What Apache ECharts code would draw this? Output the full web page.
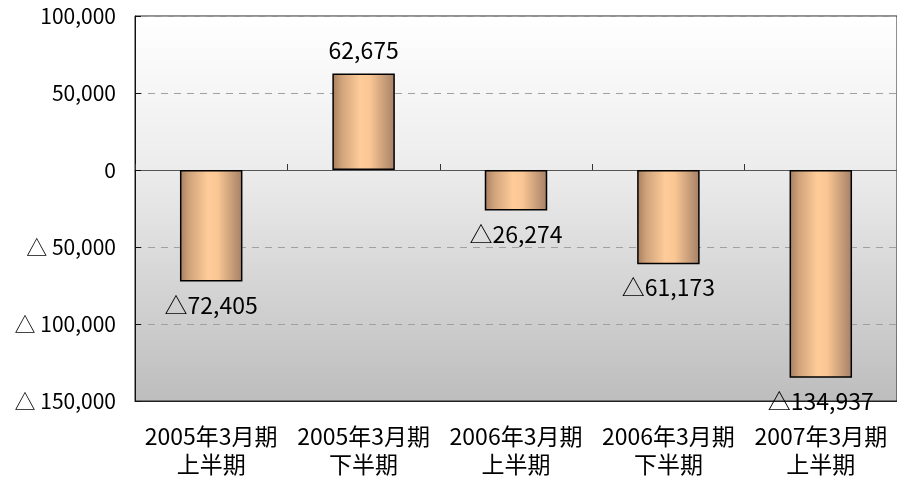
<!DOCTYPE html>
<html>
<head>
<meta charset="utf-8">
<script src="https://cdn.jsdelivr.net/npm/echarts@6/dist/echarts.min.js"></script>
<style>
html,body{margin:0;padding:0;background:#fff;}
#c{width:897px;height:480px;}
</style>
</head>
<body>
<div id="c"></div>
<script>
const categories = ['2005年3月期\n上半期', '2005年3月期\n下半期', '2006年3月期\n上半期', '2006年3月期\n下半期', '2007年3月期\n上半期'];
const values = [-72405, 62675, -26274, -61173, -134937];
const yTicks = { min: -150000, max: 100000, interval: 50000 };

const FONT = '"Noto Sans CJK JP", "Noto Sans", sans-serif';
const fmt = v => Math.abs(v).toLocaleString('en-US');

const chart = echarts.init(document.getElementById('c'));
chart.setOption({
  animation: false,
  grid: {
    left: 135, top: 16, right: -3, bottom: 79,
    show: true,
    borderColor: '#222', borderWidth: 1,
    backgroundColor: new echarts.graphic.LinearGradient(0, 0, 0, 1, [
      { offset: 0, color: '#ffffff' },
      { offset: 0.4, color: '#ececec' },
      { offset: 1, color: '#bdbdbd' }
    ])
  },
  xAxis: [
    {
      type: 'category', data: categories, position: 'bottom',
      axisLine: { onZero: false, lineStyle: { color: '#222', width: 1 } },
      axisTick: { show: false },
      axisLabel: { color: '#000', fontFamily: FONT, fontSize: 23, lineHeight: 28, margin: 21, interval: 0 },
      splitLine: { show: false }
    },
    {
      type: 'category', data: categories, position: 'bottom',
      axisLine: { onZero: true, lineStyle: { color: '#555', width: 1 } },
      axisTick: { show: true, inside: true, length: 6, lineStyle: { color: '#333' } },
      axisLabel: { show: false },
      splitLine: { show: false }
    }
  ],
  yAxis: {
    type: 'value', min: yTicks.min, max: yTicks.max, interval: yTicks.interval,
    axisLine: { show: true, lineStyle: { color: '#111', width: 1 } },
    axisTick: { show: true, inside: true, length: 6, lineStyle: { color: '#111' } },
    axisLabel: {
      color: '#000', fontFamily: FONT, fontSize: 21, margin: 19,
      formatter: v => v < 0 ? '△ ' + fmt(v) : fmt(v)
    },
    splitLine: { show: true, lineStyle: { color: '#a0a0a0', type: [7, 6], width: 1 } }
  },
  series: [{
    type: 'bar',
    xAxisIndex: 0,
    barWidth: '41%',
    data: values.map(v => ({
      value: v,
      label: { position: v < 0 ? 'bottom' : 'top' }
    })),
    itemStyle: {
      borderColor: '#000', borderWidth: 1.5,
      color: new echarts.graphic.LinearGradient(0, 0, 1, 0, [
        { offset: 0, color: '#a67e5e' },
        { offset: 0.15, color: '#d0a37b' },
        { offset: 0.45, color: '#ffcc99' },
        { offset: 0.6, color: '#fac694' },
        { offset: 1, color: '#a48066' }
      ])
    },
    label: {
      show: true, color: '#000', fontFamily: FONT, fontSize: 23, distance: 12,
      formatter: p => p.value < 0 ? '△' + fmt(p.value) : fmt(p.value)
    }
  }]
});
</script>
</body>
</html>
